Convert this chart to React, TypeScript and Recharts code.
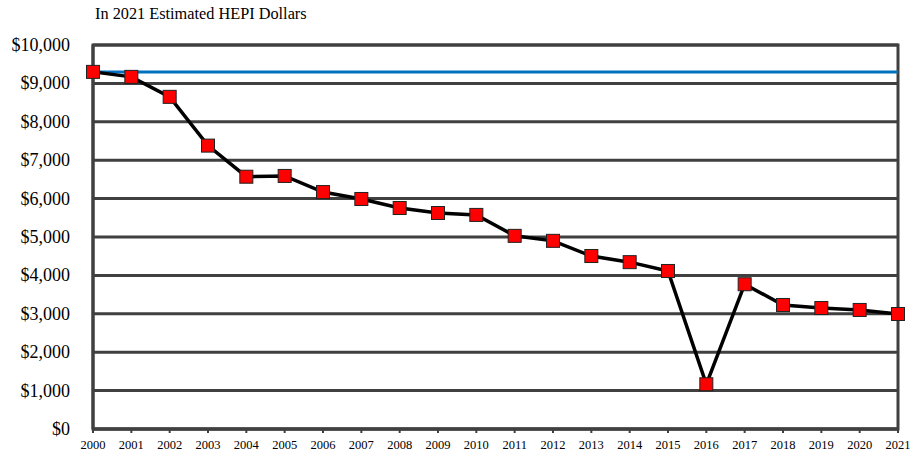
import React from 'react';
import { LineChart, Line, XAxis, YAxis, CartesianGrid, ReferenceLine, ReferenceArea } from 'recharts';

const years = ['2000','2001','2002','2003','2004','2005','2006','2007','2008','2009','2010','2011','2012','2013','2014','2015','2016','2017','2018','2019','2020','2021'];
const values = [9300, 9170, 8650, 7380, 6570, 6590, 6170, 5990, 5755, 5625, 5575, 5030, 4900, 4505, 4345, 4115, 1165, 3770, 3230, 3150, 3100, 2995];
const yTicks = [0, 1000, 2000, 3000, 4000, 5000, 6000, 7000, 8000, 9000, 10000];
const baseline = 9300;
const title = 'In 2021 Estimated HEPI Dollars';

const data = years.map((y, i) => ({ year: y, value: values[i] }));

const fmt = (v: number) => '$' + v.toLocaleString('en-US');
const FONT = '"Liberation Serif", "Times New Roman", serif';

const SquareDot = (props: any) => {
  const { cx, cy } = props;
  if (cx == null || cy == null) return null;
  const s = 13;
  return <rect x={cx - s / 2} y={cy - s / 2} width={s} height={s} fill="#ff0000" stroke="#222" strokeWidth={1} />;
};

const XTick = (props: any) => {
  const { x, y, payload } = props;
  return (
    <text x={x} y={y} dy={9} textAnchor="middle" fill="#000" style={{ fontFamily: FONT, fontSize: 12.5 }}>
      {payload.value}
    </text>
  );
};

const YTick = (props: any) => {
  const { x, y, payload } = props;
  return (
    <text x={x} y={y} dy={6} textAnchor="end" fill="#000" style={{ fontFamily: FONT, fontSize: 18 }}>
      {fmt(payload.value)}
    </text>
  );
};

export default function App() {
  return (
    <div style={{ position: 'absolute', left: 0, top: 0, width: 911, height: 454, background: '#fff' }}>
      <svg width={911} height={30} style={{ position: 'absolute', left: 0, top: 0 }}>
        <text x={95} y={19} fill="#000" style={{ fontFamily: FONT, fontSize: 16.3 }}>{title}</text>
      </svg>
      <div style={{ position: 'absolute', left: 0, top: 0 }}>
        <LineChart width={911} height={454} data={data} margin={{ top: 45, right: 13, bottom: 0, left: 0 }}>
          <CartesianGrid vertical={false} stroke="#404040" strokeWidth={3} />
          <ReferenceArea x1="2000" x2="2021" y1={0} y2={10000} fill="none" stroke="#404040" strokeWidth={3} ifOverflow="visible" />
          <XAxis
            dataKey="year"
            axisLine={{ stroke: '#404040', strokeWidth: 3 }}
            tickLine={{ stroke: '#404040', strokeWidth: 2 }}
            tickSize={4}
            height={25}
            interval={0}
            tick={<XTick />}
            tickMargin={7}
          />
          <YAxis
            domain={[0, 10000]}
            ticks={yTicks}
            width={93}
            axisLine={{ stroke: '#404040', strokeWidth: 3 }}
            tickLine={false}
            tick={<YTick />}
            tickMargin={17}
            interval={0}
          />
          <ReferenceLine y={baseline} stroke="#0070c0" strokeWidth={3} />
          <Line dataKey="value" stroke="#000" strokeWidth={3.5} dot={<SquareDot />} isAnimationActive={false} />
        </LineChart>
      </div>
    </div>
  );
}
